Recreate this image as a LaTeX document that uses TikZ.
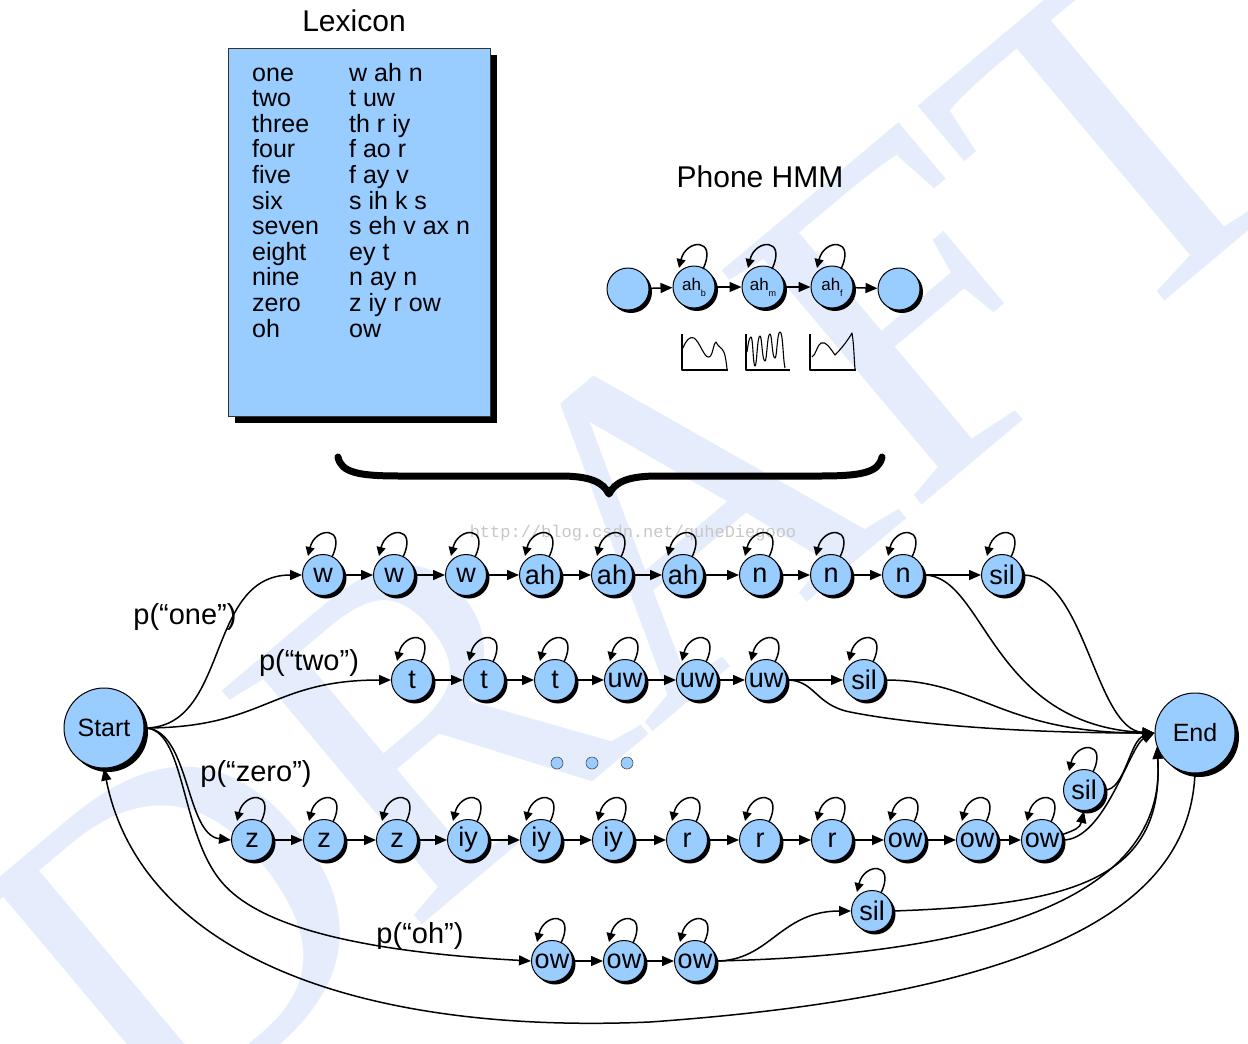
\documentclass[tikz,border=0pt]{standalone}
\usepackage{fontspec}
\setmainfont{Liberation Sans}
\newfontfamily\wmfont{Liberation Serif}
\newfontfamily\urlfont{Liberation Mono}
\usetikzlibrary{arrows.meta,shadows}
\definecolor{nodeblue}{RGB}{153,204,255}
\definecolor{wmblue}{RGB}{229,237,252}
\newcommand{\selfloop}[1]{\draw[loopar] ([shift={(9,18)}]#1.center) .. controls ([shift={(24,50)}]#1.center) and ([shift={(-8,48)}]#1.center) .. ([shift={(-15,19)}]#1.center);}
\begin{document}
\begin{tikzpicture}[x=1pt,y=1pt,
  shd/.style={drop shadow={shadow xshift=3pt,shadow yshift=-3pt,opacity=1,fill=black}},
  ph/.style={circle,draw=black,line width=1pt,fill=nodeblue,minimum size=41pt,inner sep=0pt,font=\fontsize{27}{27}\selectfont,shd},
  big/.style={ph,minimum size=80pt,font=\fontsize{25}{25}\selectfont,drop shadow={shadow xshift=4pt,shadow yshift=-4pt,opacity=1,fill=black}},
  hmm/.style={ph,minimum size=42pt,font=\fontsize{17}{17}\selectfont},
  dotn/.style={circle,draw=black!70,line width=0.6pt,fill=nodeblue,minimum size=12pt,inner sep=0pt},
  arr/.style={line width=1.5pt,-{Triangle[length=12pt,width=10pt]}},
  loopar/.style={line width=1.5pt,-{Triangle[length=9pt,width=9pt]}},
  lbl/.style={font=\fontsize{29}{29}\selectfont,inner sep=0pt},
  lex/.style={font=\fontsize{25}{25}\selectfont,inner sep=0pt,anchor=base west},
  wave/.style={line width=1.1pt,line join=round}
]
\useasboundingbox (0,0) rectangle (1248,-1044);
\fill[white] (0,0) rectangle (1248,-1044);
% watermarks
\begin{scope}
\clip (0,0) rectangle (1248,-1044);
\node[rotate=40,text=wmblue,font=\wmfont\fontsize{470}{470}\selectfont,inner sep=0pt] (wm) at (640,-540) {DRAFT};
\end{scope}
\node[text=black!22,font=\urlfont\fontsize{17}{17}\selectfont,inner sep=0pt] (url) at (633,-533) {http://blog.csdn.net/quheDiegooo};

% Lexicon
\node[font=\fontsize{30}{30}\selectfont,inner sep=0pt] (lextitle) at (354,-21) {Lexicon};
\node[draw=black!80,line width=0.8pt,fill=nodeblue,anchor=north west,minimum width=262pt,minimum height=368pt,inner sep=0pt,
  drop shadow={shadow xshift=7pt,shadow yshift=-7pt,opacity=1,fill=black}] (lexbox) at (228,-48) {};
\foreach \w/\p [count=\i] in {one/w ah n,two/t uw,three/th r iy,four/f ao r,five/f ay v,six/s ih k s,seven/s eh v ax n,eight/ey t,nine/n ay n,zero/z iy r ow,oh/ow}{
  \node[lex] (lw\i) at (252,{-81-25.6*(\i-1)}) {\w};
  \node[lex] (lp\i) at (349,{-81-25.6*(\i-1)}) {\p};
}

% Phone HMM
\node[font=\fontsize{30}{30}\selectfont,inner sep=0pt] (hmmtitle) at (760,-177) {Phone HMM};
\node[hmm] (p0) at (628,-289) {};
\node[hmm] (p1) at (694,-287) {ah\raisebox{-6pt}{\fontsize{9}{9}\selectfont b}};
\node[hmm] (p2) at (763,-287) {ah\raisebox{-6pt}{\fontsize{9}{9}\selectfont m}};
\node[hmm] (p3) at (832,-287) {ah\raisebox{-6pt}{\fontsize{9}{9}\selectfont f}};
\node[hmm] (p4) at (899,-289) {};
\draw[arr] (p0) -- (p1);
\draw[arr] (p1) -- (p2);
\draw[arr] (p2) -- (p3);
\draw[arr] (p3) -- (p4);
\selfloop{p1}\selfloop{p2}\selfloop{p3}

% waveforms
\draw[wave] (682,-334) -- (682,-370) -- (728,-370);
\draw[wave] (683,-348) .. controls (686,-340) and (690,-336) .. (694,-338) .. controls (700,-342) and (704,-358) .. (709,-357) .. controls (713,-356) and (713,-344) .. (716,-342) .. controls (718,-346) and (720,-347) .. (722,-349) .. controls (725,-352) and (726,-360) .. (727,-369);
\draw[wave] (746,-334) -- (746,-370) -- (790,-370);
\draw[wave] (747,-352) .. controls (748,-345) and (749,-337) .. (751,-337) .. controls (753,-337) and (753,-366) .. (755,-366) .. controls (757,-366) and (757,-336) .. (760,-336) .. controls (762,-336) and (762,-361) .. (765,-361) .. controls (767,-361) and (767,-334) .. (770,-334) .. controls (772,-334) and (772,-358) .. (775,-358) .. controls (777,-358) and (777,-332) .. (780,-332) .. controls (783,-332) and (783,-360) .. (785,-368);
\draw[wave] (810,-334) -- (810,-370) -- (856,-370);
\draw[wave] (812,-357) .. controls (816,-355) and (817,-345) .. (821,-343) .. controls (826,-341) and (830,-348) .. (835,-355) .. controls (842,-348) and (848,-340) .. (852,-333) .. controls (854,-345) and (854,-358) .. (855,-369);

% brace
\draw[line width=7pt,line cap=round,line join=round] (338,-457) .. controls (341,-473) and (360,-476) .. (400,-476) -- (560,-476) .. controls (590,-476) and (603,-482) .. (609,-494) .. controls (615,-482) and (628,-476) .. (658,-476) -- (820,-476) .. controls (860,-476) and (879,-473) .. (882,-457);

% Start / End
\node[big] (start) at (104,-728) {Start};
\node[big] (end) at (1195,-733) {End};

% row one
\foreach \n/\x/\t in {a1/323/w,a2/394/w,a3/466/w,a4/540/ah,a5/612/ah,a6/683/ah,a7/760/n,a8/831/n,a9/903/n,as/1002/sil}{
  \node[ph] (\n) at (\x,-575) {\t};
  \selfloop{\n}
}
\foreach \u/\v in {a1/a2,a2/a3,a3/a4,a4/a5,a5/a6,a6/a7,a7/a8,a8/a9,a9/as}{\draw[arr] (\u) -- (\v);}

% row two
\foreach \n/\x/\t in {b1/412/t,b2/484/t,b3/555/t,b4/625/uw,b5/697/uw,b6/766/uw,bs/864/sil}{
  \node[ph] (\n) at (\x,-680) {\t};
  \selfloop{\n}
}
\foreach \u/\v in {b1/b2,b2/b3,b3/b4,b4/b5,b5/b6,b6/bs}{\draw[arr] (\u) -- (\v);}

% dots
\node[dotn] (dot1) at (557,-763) {};
\node[dotn] (dot2) at (592,-763) {};
\node[dotn] (dot3) at (627,-763) {};

% row zero
\foreach \n/\x/\t in {c1/252/z,c2/324/z,c3/397/z,c4/468/iy,c5/541/iy,c6/613/iy,c7/687/r,c8/760/r,c9/832/r,c10/905/ow,c11/977/ow,c12/1042/ow}{
  \node[ph] (\n) at (\x,-840) {\t};
  \selfloop{\n}
}
\foreach \u/\v in {c1/c2,c2/c3,c3/c4,c4/c5,c5/c6,c6/c7,c7/c8,c8/c9,c9/c10,c10/c11,c11/c12}{\draw[arr] (\u) -- (\v);}
\node[ph] (cs) at (1084,-790) {sil};
\selfloop{cs}

% row oh
\foreach \n/\x/\t in {d1/552/ow,d2/624/ow,d3/695/ow}{
  \node[ph] (\n) at (\x,-961) {\t};
  \selfloop{\n}
}
\foreach \u/\v in {d1/d2,d2/d3}{\draw[arr] (\u) -- (\v);}
\node[ph] (ds) at (872,-911) {sil};
\selfloop{ds}

% from Start
\draw[arr] (start.east) .. controls (230,-728) and (205,-575) .. (a1.west);
\draw[arr] (start.east) .. controls (265,-728) and (270,-680) .. (b1.west);
\draw[arr] (start.east) .. controls (190,-728) and (185,-835) .. (c1.west);
\draw[arr] (start.east) .. controls (185,-728) and (180,-830) .. (220,-880) .. controls (250,-918) and (330,-950) .. (d1.west);
\node[lbl] (lone) at (185,-617) {p(“one”)};
\node[lbl] (ltwo) at (309,-663) {p(“two”)};
\node[lbl] (lzero) at (256,-774) {p(“zero”)};
\node[lbl] (loh) at (420,-936) {p(“oh”)};

% to End
\draw[arr] (a9.east) .. controls (985,-575) and (990,-725) .. (end.west);
\draw[arr] (as.east) .. controls (1085,-575) and (1095,-730) .. (end.west);
\draw[arr] (bs.east) .. controls (980,-680) and (1000,-733) .. (end.west);
\draw[arr] (b6.east) .. controls (815,-680) and (815,-705) .. (850,-712) .. controls (900,-722) and (1000,-733) .. (end.west);
\draw[arr] (c12.15) .. controls (1075,-830) and (1080,-828) .. (cs.south);
\draw[arr] (c12.east) .. controls (1105,-840) and (1130,-745) .. (end.west);
\draw[arr] (cs.east) .. controls (1125,-790) and (1130,-740) .. (end.west);
\draw[arr] (d3.east) .. controls (770,-961) and (780,-911) .. (ds.west);
\draw[arr] (d3.east) .. controls (980,-955) and (1168,-900) .. (end.200);
\draw[arr] (ds.east) .. controls (1070,-905) and (1165,-880) .. (end.200);

% back edge
\draw[arr] (end.south) .. controls (1190,-880) and (1100,-990) .. (650,-1022) .. controls (350,-1035) and (140,-950) .. (start.south);
\end{tikzpicture}
\end{document}
